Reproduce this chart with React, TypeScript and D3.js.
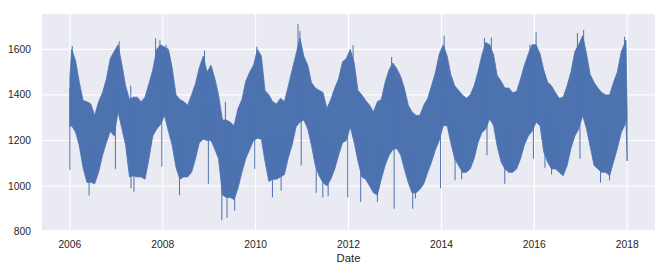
import React from "react";
import * as d3 from "d3";

const W = 668;
const H = 271;
const PLOT = { left: 42, right: 655, top: 14, bottom: 230 };

// Monthly upper (weekday) and lower (weekend) envelope of daily consumption, 2006-01 .. 2017-12
const startYear = 2006;
const monthlyHigh = [
  // 2006
  1600, 1550, 1460, 1375, 1370, 1360, 1310, 1370, 1410, 1470, 1560, 1590,
  // 2007
  1620, 1530, 1440, 1380, 1390, 1390, 1370, 1390, 1450, 1510, 1600, 1620,
  // 2008
  1610, 1600, 1520, 1400, 1380, 1370, 1355, 1400, 1450, 1520, 1570, 1500,
  // 2009
  1530, 1470, 1400, 1290, 1290, 1280, 1265, 1340, 1380, 1460, 1500, 1530,
  // 2010
  1600, 1570, 1420, 1400, 1370, 1360, 1385, 1370, 1440, 1510, 1580, 1650,
  // 2011
  1570, 1530, 1455, 1430, 1420, 1410, 1340, 1380, 1430, 1470, 1545, 1560,
  // 2012
  1600, 1540, 1420, 1400, 1375, 1355, 1325, 1370, 1380, 1455, 1510, 1540,
  // 2013
  1515, 1480, 1430, 1355, 1325, 1310, 1310, 1355, 1385, 1440, 1500, 1580,
  // 2014
  1620, 1570, 1490, 1440, 1420, 1400, 1385, 1400, 1440, 1500, 1575, 1630,
  // 2015
  1620, 1575, 1485, 1460, 1430, 1430, 1410, 1415, 1470, 1530, 1580, 1620,
  // 2016
  1620, 1580, 1510, 1455, 1440, 1410, 1385, 1390, 1440, 1500, 1590, 1620,
  // 2017
  1660, 1580, 1490, 1455, 1430, 1410, 1400, 1400, 1455, 1500, 1590, 1630,
];
const monthlyLow = [
  // 2006
  1265, 1236, 1180, 1080, 1016, 1016, 1010, 1060, 1135, 1190, 1240, 1220,
  // 2007
  1325, 1250, 1180, 1040, 1045, 1040, 1040, 1030, 1120, 1220, 1250, 1270,
  // 2008
  1310, 1240, 1180, 1080, 1030, 1040, 1040, 1060, 1120, 1190, 1205, 1200,
  // 2009
  1200, 1160, 1120, 960, 950, 950, 940, 990, 1060, 1120, 1160, 1200,
  // 2010
  1210, 1205, 1110, 1020, 1030, 1030, 1040, 1050, 1125, 1180, 1260, 1280,
  // 2011
  1290, 1250, 1180, 1090, 1045, 1015, 1000, 1030, 1075, 1135, 1190, 1200,
  // 2012
  1260, 1190, 1110, 1040, 1030, 1000, 970, 960, 1030, 1090, 1135, 1160,
  // 2013
  1165, 1135, 1075, 1015, 970, 970, 985, 1010, 1060, 1105, 1160, 1200,
  // 2014
  1265, 1265, 1190, 1120, 1090, 1060, 1060, 1075, 1120, 1190, 1235, 1250,
  // 2015
  1295, 1265, 1175, 1105, 1075, 1060, 1060, 1075, 1120, 1180, 1220, 1240,
  // 2016
  1280, 1265, 1150, 1105, 1075, 1075, 1060, 1045, 1090, 1165, 1220, 1250,
  // 2017
  1310, 1250, 1175, 1090, 1075, 1060, 1060, 1045, 1105, 1165, 1235, 1270,
];

// first and last days of the series
const edgeDates = ["2006-01-01", "2017-12-22", "2017-12-31"];
const edgeHigh = [1480, 1640, 1330];
const edgeLow = [1260, 1290, 1110];

// individual days sticking out above the band
const peakDates = [
  "2006-01-20", "2007-01-24", "2007-04-25", "2007-11-06", "2007-12-10", "2008-01-28",
  "2008-11-25", "2009-05-08", "2010-01-10", "2010-11-30", "2010-12-15", "2012-02-06",
  "2012-12-05", "2014-01-22", "2014-12-05", "2015-01-28", "2015-11-28", "2016-01-15",
  "2016-12-05", "2017-01-23", "2017-12-10",
];
const peakValues = [
  1615, 1635, 1440, 1648, 1640, 1620,
  1595, 1370, 1612, 1712, 1680, 1618,
  1566, 1660, 1650, 1652, 1620, 1675,
  1672, 1685, 1655,
];

// individual days (holidays) dropping below the band
const dipDates = [
  "2006-01-01", "2006-06-01", "2006-12-25", "2007-04-27", "2007-05-20", "2007-12-25",
  "2008-05-12", "2008-12-25", "2009-04-10", "2009-05-21", "2009-07-20", "2009-12-25",
  "2010-05-13", "2010-07-20", "2010-12-25", "2011-04-22", "2011-06-13", "2011-07-25",
  "2011-12-26", "2012-04-06", "2012-08-15", "2012-12-25", "2013-05-20", "2013-06-10",
  "2013-12-25", "2014-04-18", "2014-06-09", "2014-12-25", "2015-05-14", "2015-12-25",
  "2016-03-25", "2016-05-16", "2016-12-25", "2017-06-05", "2017-08-15",
];
const dipValues = [
  1070, 958, 1075, 990, 975, 1085,
  960, 1010, 850, 860, 892, 1075,
  950, 980, 1090, 970, 950, 955,
  950, 930, 930, 900, 900, 945,
  990, 1025, 1030, 1135, 1010, 1120,
  1080, 1050, 1120, 1015, 1025,
];

const xTickYears = [2006, 2008, 2010, 2012, 2014, 2016, 2018];
const yTicks = [800, 1000, 1200, 1400, 1600];

const parse = d3.timeParse("%Y-%m-%d");
const COLOR = "#4C72B0";
const FONT = "'Liberation Sans', Arial, Helvetica, sans-serif";

type Pt = { date: Date; hi: number; lo: number };

export default function App() {
  const first = parse(edgeDates[0]) as Date;
  const last = parse(edgeDates[edgeDates.length - 1]) as Date;
  const span = last.getTime() - first.getTime();
  const pad = span * 0.05;
  const x = d3
    .scaleTime()
    .domain([new Date(first.getTime() - pad), new Date(last.getTime() + pad)])
    .range([PLOT.left, PLOT.right]);

  const dataMin = Math.min(...dipValues, ...monthlyLow);
  const dataMax = Math.max(...peakValues, ...monthlyHigh);
  const yPad = (dataMax - dataMin) * 0.05;
  const y = d3
    .scaleLinear()
    .domain([dataMin - yPad, dataMax + yPad])
    .range([PLOT.bottom, PLOT.top]);

  const pts: Pt[] = [];
  pts.push({ date: first, hi: edgeHigh[0], lo: edgeLow[0] });
  monthlyHigh.forEach((hi, i) => {
    const yr = startYear + Math.floor(i / 12);
    const m = i % 12;
    pts.push({ date: new Date(yr, m, 15), hi, lo: monthlyLow[i] });
  });
  for (let i = 1; i < edgeDates.length; i++) {
    pts.push({ date: parse(edgeDates[i]) as Date, hi: edgeHigh[i], lo: edgeLow[i] });
  }

  const area = d3
    .area<Pt>()
    .x((d) => x(d.date))
    .y0((d) => y(d.lo))
    .y1((d) => y(d.hi))
    .curve(d3.curveLinear);

  const midOf = (dt: Date) => {
    const i = Math.min(
      monthlyHigh.length - 1,
      Math.max(0, (dt.getFullYear() - startYear) * 12 + dt.getMonth())
    );
    return (monthlyHigh[i] + monthlyLow[i]) / 2;
  };

  const spikes = [
    ...peakDates.map((s, i) => ({ date: parse(s) as Date, v: peakValues[i] })),
    ...dipDates.map((s, i) => ({ date: parse(s) as Date, v: dipValues[i] })),
  ];

  const textColor = "#262626";

  return (
    <svg
      width={W}
      height={H}
      style={{ position: "absolute", left: 0, top: 0, display: "block" }}
    >
      <rect x={0} y={0} width={W} height={H} fill="#ffffff" />
      <defs>
        <clipPath id="plotclip">
          <rect
            x={PLOT.left}
            y={PLOT.top}
            width={PLOT.right - PLOT.left}
            height={PLOT.bottom - PLOT.top}
          />
        </clipPath>
      </defs>
      <rect
        x={PLOT.left}
        y={PLOT.top}
        width={PLOT.right - PLOT.left}
        height={PLOT.bottom - PLOT.top}
        fill="#EAEAF2"
      />
      {yTicks.map((t) => (
        <line
          key={"gy" + t}
          x1={PLOT.left}
          x2={PLOT.right}
          y1={y(t)}
          y2={y(t)}
          stroke="#ffffff"
          strokeWidth={1.1}
        />
      ))}
      {xTickYears.map((yr) => {
        const px = x(new Date(yr, 0, 1));
        return (
          <line
            key={"gx" + yr}
            x1={px}
            x2={px}
            y1={PLOT.top}
            y2={PLOT.bottom}
            stroke="#ffffff"
            strokeWidth={1.1}
          />
        );
      })}
      <g clipPath="url(#plotclip)">
        <path d={area(pts) || ""} fill={COLOR} stroke={COLOR} strokeWidth={0.8} />
        {spikes.map((s, i) => (
          <line
            key={"sp" + i}
            x1={x(s.date)}
            x2={x(s.date)}
            y1={y(s.v)}
            y2={y(midOf(s.date))}
            stroke={COLOR}
            strokeWidth={1}
          />
        ))}
      </g>
      {yTicks.map((t) => (
        <text
          key={"ty" + t}
          x={31}
          y={y(t)}
          dy="0.35em"
          textAnchor="end"
          fontFamily={FONT}
          fontSize={10.3}
          fill={textColor}
        >
          {t}
        </text>
      ))}
      {xTickYears.map((yr) => (
        <text
          key={"tx" + yr}
          x={x(new Date(yr, 0, 1))}
          y={248}
          textAnchor="middle"
          fontFamily={FONT}
          fontSize={10.3}
          fill={textColor}
        >
          {yr}
        </text>
      ))}
      <text
        x={(PLOT.left + PLOT.right) / 2}
        y={262}
        textAnchor="middle"
        fontFamily={FONT}
        fontSize={11.3}
        fill={textColor}
      >
        Date
      </text>
    </svg>
  );
}
